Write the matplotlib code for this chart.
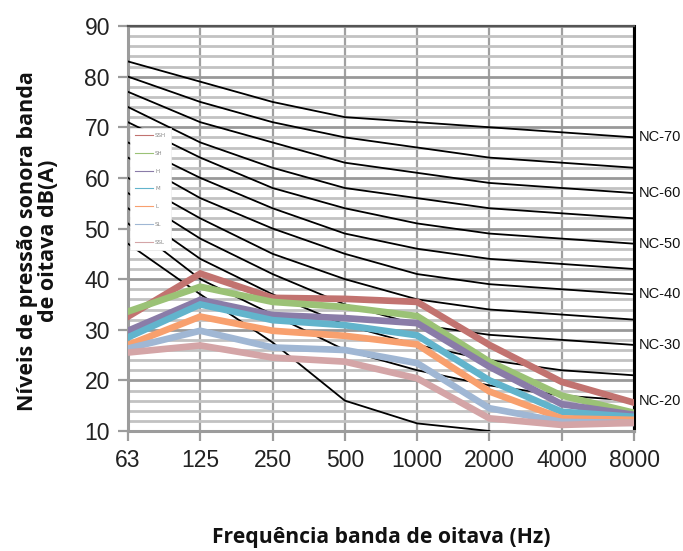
import matplotlib
matplotlib.use("Agg")
import matplotlib.pyplot as plt
import numpy as np

# bandas de oitava
freqs = ["63", "125", "250", "500", "1000", "2000", "4000", "8000"]

# curvas NC
nc_70 = [83, 79, 75, 72, 71, 70, 69, 68]
nc_65 = [80, 75, 71, 68, 66, 64, 63, 62]
nc_60 = [77, 71, 67, 63, 61, 59, 58, 57]
nc_55 = [74, 67, 62, 58, 56, 54, 53, 52]
nc_50 = [71, 64, 58, 54, 51, 49, 48, 47]
nc_45 = [67, 60, 54, 49, 46, 44, 43, 42]
nc_40 = [64, 56, 50, 45, 41, 39, 38, 37]
nc_35 = [60, 52, 45, 40, 36, 34, 33, 32]
nc_30 = [57, 48, 41, 35, 31, 29, 28, 27]
nc_25 = [54, 44, 37, 31, 27, 24, 22, 21]
nc_20 = [51, 40, 33, 26, 22, 19, 17, 16]
nc_15 = [47, 37, 27.5, 16, 11.5, 10, np.nan, np.nan]
nc_curvas = [nc_70, nc_65, nc_60, nc_55, nc_50, nc_45, nc_40, nc_35,
             nc_30, nc_25, nc_20, nc_15]

nc_rotulos = ["NC-70", "NC-60", "NC-50", "NC-40", "NC-30", "NC-20"]
nc_rotulo_vals = [68, 57, 47, 37, 27, 16]

# medicoes
serie_nomes = ["SSH", "SH", "H", "M", "L", "SL", "SSL"]
s_ssh = [32.6, 41.1, 36.3, 36.1, 35.5, 27.0, 19.7, 15.6]
s_sh = [33.6, 38.5, 35.5, 34.5, 32.7, 23.7, 17.0, 13.6]
s_h = [29.8, 35.9, 32.9, 32.3, 31.3, 22.7, 15.3, 13.2]
s_m = [28.5, 35.0, 31.9, 30.9, 28.9, 20.0, 13.8, 12.8]
s_l = [27.0, 32.6, 29.8, 28.8, 27.1, 17.8, 12.5, 12.2]
s_sl = [26.3, 29.8, 26.5, 26.0, 23.4, 14.5, 11.8, 11.6]
s_ssl = [25.5, 26.9, 24.5, 23.7, 20.4, 12.5, 11.2, 11.6]
series = [s_ssh, s_sh, s_h, s_m, s_l, s_sl, s_ssl]
cores = ["#C27370", "#9BC276", "#8A7CA8", "#62B4CC", "#F8A06E", "#A0B7D4", "#D4A5A7"]

fig = plt.figure(figsize=(6.83, 5.51), dpi=100)
ax = fig.add_axes([128/683, 1-431/551, (634-128)/683, (431-26)/551])

x = np.arange(len(freqs))

for c in nc_curvas:
    ax.plot(x, c, color="black", linewidth=1.3, zorder=3)

for s, cor, nome in zip(series, cores, serie_nomes):
    ax.plot(x, s, color=cor, linewidth=4.8, label=nome, zorder=4,
            solid_joinstyle="miter")

ax.set_xlim(0, 7)
ax.set_ylim(10, 90)
ax.set_yticks(np.arange(10, 91, 10))
ax.set_yticks(np.arange(10, 91, 2), minor=True)
ax.set_xticks(x)
ax.set_xticklabels(freqs)

ax.grid(axis="y", which="minor", color="#c2c2c2", linewidth=2, zorder=1)
ax.grid(axis="y", which="major", color="#999999", linewidth=2, zorder=1)
ax.grid(axis="x", which="major", color="#a0a0a0", linewidth=1.6, zorder=1)
ax.set_axisbelow(True)

fonte = ["Liberation Sans", "DejaVu Sans"]
fonte_tit = ["Open Sans", "DejaVu Sans"]
ax.tick_params(axis="both", which="major", labelsize=16.5, labelcolor="#222222",
               color="#9c9c9c", width=1.6, length=7, pad=6)
ax.tick_params(axis="y", which="minor", length=0)
for lab in ax.get_xticklabels() + ax.get_yticklabels():
    lab.set_family(fonte)

ax.spines["left"].set_color("#9c9c9c")
ax.spines["left"].set_linewidth(2.2)
ax.spines["bottom"].set_color("#9c9c9c")
ax.spines["bottom"].set_linewidth(2.2)
ax.spines["top"].set_color("#555555")
ax.spines["top"].set_linewidth(1.6)
ax.spines["right"].set_color("black")
ax.spines["right"].set_linewidth(2.2)

for rot, v in zip(nc_rotulos, nc_rotulo_vals):
    ax.text(7.07, v, rot, fontsize=10.5, family=fonte, color="#111111",
            va="center", ha="left", clip_on=False)

leg = ax.legend(loc="upper left", bbox_to_anchor=(0.004, 0.748), fontsize=4,
                frameon=True, fancybox=False, framealpha=1, handlelength=3.2,
                labelspacing=2.3, borderpad=0.9, handletextpad=0.4,
                borderaxespad=0)
leg.get_frame().set_edgecolor("#eeeeee")
leg.get_frame().set_linewidth(0.5)
leg.set_zorder(6)
for ln in leg.get_lines():
    ln.set_linewidth(0.8)
for t in leg.get_texts():
    t.set_color("#888888")

fig.text(38/683, 1-241/551, "Níveis de pressão sonora banda\nde oitava dB(A)",
         rotation=90, ha="center", va="center", multialignment="center",
         fontsize=15.5, fontweight="bold", family=fonte_tit,
         color="#111111", linespacing=0.95)
fig.text(381/683, 1-537/551, "Frequência banda de oitava (Hz)",
         ha="center", va="center", fontsize=15.2, fontweight="bold",
         family=fonte_tit, color="#111111")

fig.savefig("out.png", dpi=100)
